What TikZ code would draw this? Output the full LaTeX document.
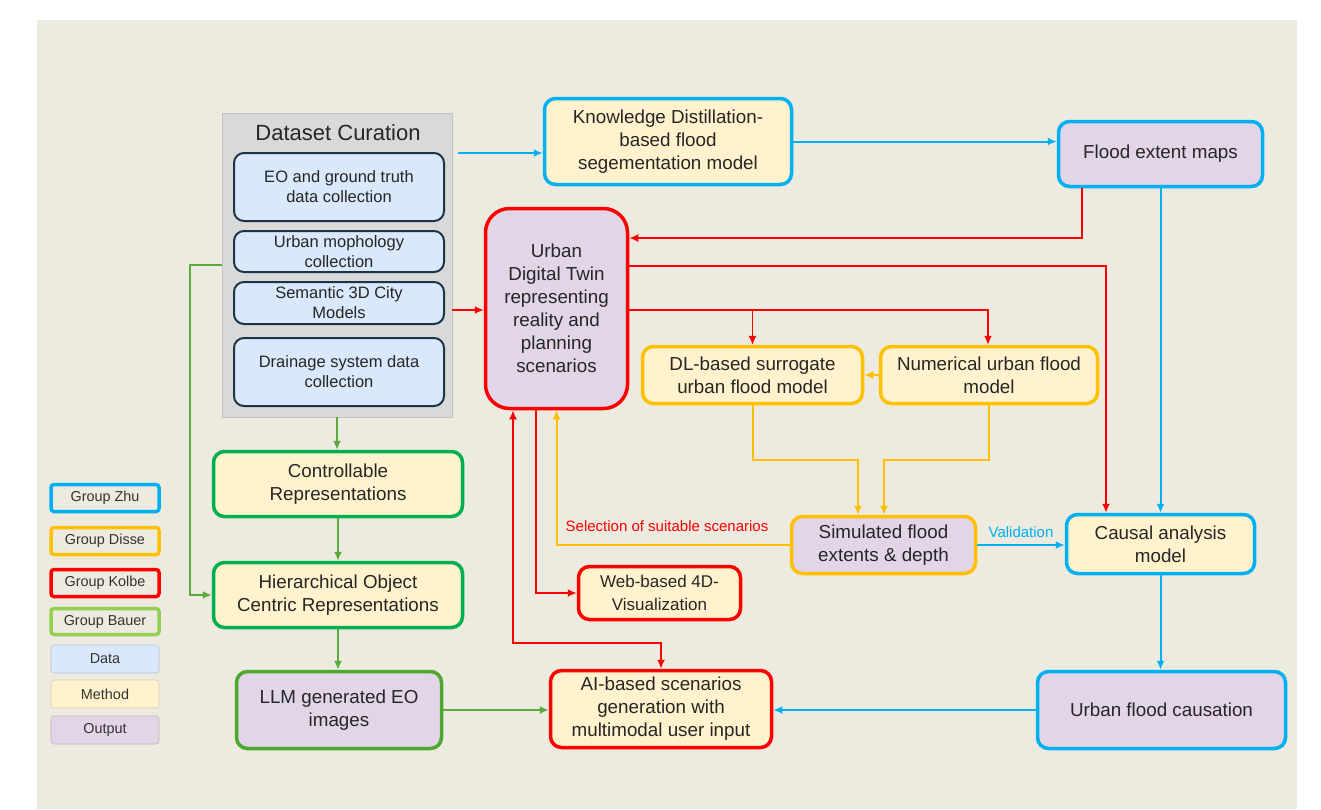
\documentclass[tikz,border=0pt]{standalone}
\usepackage{fontspec}
\setmainfont{Liberation Sans}
\usetikzlibrary{arrows.meta}
\definecolor{bg}{HTML}{EDEAE0}
\definecolor{panel}{HTML}{D9D9D9}
\definecolor{datafill}{HTML}{DAE8FC}
\definecolor{dataedge}{HTML}{1B3546}
\definecolor{methfill}{HTML}{FFF2CC}
\definecolor{outfill}{HTML}{E1D5E7}
\definecolor{zhu}{HTML}{00B0F0}
\definecolor{disse}{HTML}{FFC000}
\definecolor{kolbe}{HTML}{FF0000}
\definecolor{bauer}{HTML}{00B050}
\definecolor{bauerdk}{HTML}{4EA72E}
\definecolor{bauerlt}{HTML}{92D050}
\definecolor{garrow}{HTML}{5AAA3C}
\tikzset{
  box/.style={rounded corners=11pt, line width=3.5pt, align=center, inner sep=2pt,
    font=\fontsize{18.8}{23}\selectfont, text=black!85},
  databox/.style={rounded corners=10pt, line width=2pt, draw=dataedge, fill=datafill, align=center,
    font=\fontsize{16.5}{20}\selectfont, text=black!85, inner sep=1pt},
  legbox/.style={rounded corners=3pt, line width=3.5pt, minimum width=108pt, align=center,
    font=\fontsize{14.4}{16}\selectfont, text=black!80},
  legplain/.style={rounded corners=3pt, line width=0.6pt, minimum width=108pt, align=center,
    font=\fontsize{14.4}{16}\selectfont, text=black!80},
  arr/.style={line width=2pt, -{Latex[length=9pt,width=8pt]}},
  barr/.style={arr, draw=zhu},
  rarr/.style={arr, draw=kolbe},
  oarr/.style={arr, draw=disse},
  garr/.style={arr, draw=garrow},
  lbl/.style={font=\fontsize{15}{17}\selectfont},
}
\begin{document}
\begin{tikzpicture}[x=1pt,y=-1pt]
\useasboundingbox (0,0) rectangle (1321,809);
\fill[white] (0,0) rectangle (1321,809);
\fill[bg] (37,20) rectangle (1297,809);

% Dataset curation panel
\node[fill=panel, draw=panel!90!black, line width=0.5pt, minimum width=230pt, minimum height=304pt, inner sep=0pt] (dc) at (337,265) {};
\node[font=\fontsize{22}{26}\selectfont, text=black!85] (dct) at (338,133) {Dataset Curation};
\node[databox, minimum width=210pt, minimum height=68pt] (eo) at (339,187) {EO and ground truth\\data collection};
\node[databox, minimum width=210pt, minimum height=41pt] (um) at (339,251.5) {Urban mophology\\collection};
\node[databox, minimum width=210pt, minimum height=42pt] (s3d) at (339,303) {Semantic 3D City\\Models};
\node[databox, minimum width=210pt, minimum height=68pt] (dr) at (339,372) {Drainage system data\\collection};

% Main boxes
\node[box, draw=zhu, fill=methfill, minimum width=247pt, minimum height=86pt] (kd) at (668,141.5) {Knowledge Distillation-\\based flood\\segementation model};
\node[box, draw=zhu, fill=outfill, minimum width=204pt, minimum height=65pt] (fem) at (1160.5,154) {Flood extent maps};
\node[box, draw=kolbe, fill=outfill, rounded corners=24pt, minimum width=142pt, minimum height=200pt] (udt) at (556.5,308.5) {Urban\\Digital Twin\\representing\\reality and\\planning\\scenarios};
\node[box, draw=disse, fill=methfill, minimum width=220pt, minimum height=57pt] (dl) at (752.5,375) {DL-based surrogate\\urban flood model};
\node[box, draw=disse, fill=methfill, minimum width=217pt, minimum height=57pt] (num) at (989,375) {Numerical urban flood\\model};
\node[box, draw=disse, fill=outfill, minimum width=184pt, minimum height=57pt] (sim) at (883.5,545) {Simulated flood\\extents \& depth};
\node[box, draw=zhu, fill=methfill, minimum width=188pt, minimum height=59pt] (cam) at (1160.5,544) {Causal analysis\\model};
\node[box, draw=kolbe, fill=methfill, minimum width=162pt, minimum height=53pt, font=\fontsize{17}{23}\selectfont] (web) at (659.5,593) {Web-based 4D-\\Visualization};
\node[box, draw=kolbe, fill=methfill, minimum width=221pt, minimum height=77pt] (ai) at (661,709) {AI-based scenarios\\generation with\\multimodal user input};
\node[box, draw=zhu, fill=outfill, minimum width=248pt, minimum height=77pt] (ufc) at (1161.5,710) {Urban flood causation};
\node[box, draw=bauer, fill=methfill, minimum width=249pt, minimum height=65pt] (ctrl) at (338,484) {Controllable\\Representations};
\node[box, draw=bauer, fill=methfill, minimum width=249pt, minimum height=65pt] (hier) at (338,595) {Hierarchical Object\\Centric Representations};
\node[box, draw=bauerdk, fill=outfill, minimum width=205pt, minimum height=77pt] (llm) at (339,710) {LLM generated EO\\images};

% Legend
\node[legbox, draw=zhu, fill=bg, minimum height=27pt] (lzhu) at (105,498) {Group Zhu};
\node[legbox, draw=disse, fill=bg, minimum height=27pt] (ldisse) at (105,541) {Group Disse};
\node[legbox, draw=kolbe, fill=bg, minimum height=27pt] (lkolbe) at (105,583) {Group Kolbe};
\node[legbox, draw=bauerlt, fill=bg, minimum height=26pt] (lbauer) at (105,621.5) {Group Bauer};
\node[legplain, draw=datafill!85!black, fill=datafill, minimum height=28pt] (ldata) at (105,659) {Data};
\node[legplain, draw=methfill!85!black, fill=methfill, minimum height=28pt] (lmeth) at (105,694) {Method};
\node[legplain, draw=outfill!85!black, fill=outfill, minimum height=28pt] (lout) at (105,730) {Output};

% Waypoints
\coordinate (dcout) at (458,153);
\coordinate (r1) at (1082,238);
\coordinate (r2) at (0,310);
\coordinate (r3) at (1106,266);
\coordinate (r4) at (988,310);
\coordinate (o1) at (858,460);
\coordinate (o2) at (884,460);
\coordinate (r6) at (536,594);
\coordinate (r7) at (513,643);
\coordinate (g1) at (190,265);

% Blue connectors
\draw[barr] (dcout) -- (dcout -| kd.west);
\draw[barr] (kd.east) -- (kd.east -| fem.west);
\draw[barr] (fem.south) -- (cam.north);
\draw[barr] (sim.east) -- (sim.east -| cam.west);
\draw[barr] (cam.south) -- (cam.south |- ufc.north);
\draw[barr] (ufc.west) -- (ufc.west -| ai.east);

% Red connectors
\draw[rarr] (fem.south -| r1) -- (r1) -- (r1 -| udt.east);
\draw[rarr] (dc.east |- r2) -- (udt.west |- r2);
\draw[rarr] (udt.east |- r3) -| (cam.north -| r3);
\draw[rarr] (udt.east |- r4) -| (num.north -| r4);
\draw[rarr, line width=1.2pt] (dl.north |- r4) -- (dl.north);
\draw[rarr] (udt.south -| r6) |- (web.west);
\draw[rarr, {Latex[length=9pt,width=8pt]}-{Latex[length=9pt,width=8pt]}] (udt.south -| r7) -- (r7) -- (r7 -| ai.north) -- (ai.north);

% Orange connectors
\draw[oarr] (num.west) -- (dl.east);
\draw[oarr] (dl.south) |- (o1) -- (o1 |- sim.north);
\draw[oarr] (num.south) |- (o2) -- (o2 |- sim.north);
\draw[oarr] (sim.west) -| (udt.south);

% Green connectors
\draw[garr] (dc.south) -- (dc.south |- ctrl.north);
\draw[garr] (ctrl.south) -- (hier.north);
\draw[garr] (hier.south) -- (hier.south |- llm.north);
\draw[garr] (dc.west |- g1) -- (g1) |- (hier.west);
\draw[garr] (llm.east) -- (llm.east -| ai.west);

% Labels
\node[lbl, text=kolbe] (lsel) at (667,526) {Selection of suitable scenarios};
\node[lbl, text=zhu] (lval) at (1021,532) {Validation};
\end{tikzpicture}
\end{document}
